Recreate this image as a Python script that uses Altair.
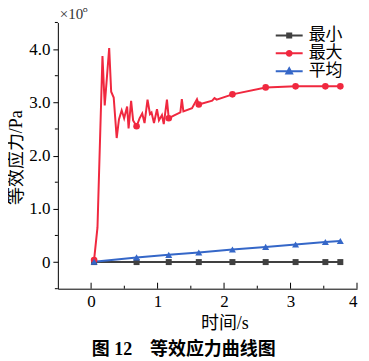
import altair as alt
import pandas as pd

SERIES = ["最小", "最大", "平均"]
COLORS = ["#404040", "#f0283f", "#3567c8"]
SHAPES = ["square", "circle", "triangle-up"]
# legend glyphs: a line with the marker in its middle
LEGEND_GLYPHS = [
    "M-1.8,0H1.8M-0.27,-0.27H0.27V0.27H-0.27Z",
    "M-1.8,0H1.8M0.33,0A0.33,0.33,0,1,1,-0.33,0A0.33,0.33,0,1,1,0.33,0Z",
    "M-1.8,0H1.8M0,-0.4L0.38,0.28H-0.38Z",
]

# dense trace of the maximum stress curve (x: s, y: 1e8 Pa)
max_t = [0.045, 0.096, 0.171, 0.205, 0.272, 0.302, 0.340, 0.385, 0.419, 0.460,
         0.497, 0.542, 0.564, 0.602, 0.632, 0.684, 0.729, 0.769, 0.804, 0.849,
         0.886, 0.909, 0.946, 0.991, 1.021, 1.066, 1.093, 1.141, 1.168, 1.243,
         1.343, 1.365, 1.388, 1.518, 1.593, 1.620, 1.822, 1.856, 1.889, 2.126,
         2.626, 3.076, 3.524, 3.749]
max_v = [0.04, 0.65, 3.87, 2.94, 4.02, 3.20, 3.09, 2.33, 2.68, 2.85,
         2.70, 2.92, 2.51, 3.03, 2.66, 2.55, 2.70, 2.79, 2.61, 3.05,
         2.78, 2.81, 2.61, 2.87, 2.66, 2.76, 2.59, 3.05, 2.70, 2.75,
         2.81, 3.06, 2.83, 2.89, 3.06, 2.96, 3.03, 3.08, 3.05, 3.15,
         3.28, 3.30, 3.30, 3.30]

# marker positions
mark_t = [0.045, 0.684, 1.168, 1.620, 2.126, 2.626, 3.076, 3.524, 3.749]
max_mark = [0.04, 2.55, 2.70, 2.96, 3.15, 3.28, 3.30, 3.30, 3.30]
min_mark = [0.0, 0.0, 0.0, 0.0, 0.0, 0.0, 0.0, 0.0, 0.0]
avg_mark = [0.005, 0.088, 0.136, 0.180, 0.237, 0.285, 0.330, 0.378, 0.397]

x_major = [0, 1, 2, 3, 4]
x_minor = [0.5, 1.5, 2.5, 3.5]
y_major = [0, 1, 2, 3, 4]
y_minor = [-0.5, 0.5, 1.5, 2.5, 3.5, 4.5]

SERIF = "'Liberation Serif', 'Times New Roman', serif"
FONT = "'Liberation Serif', 'Noto Sans CJK SC', serif"

xs = alt.Scale(domain=[-0.5, 4], nice=False, zero=False)
ys = alt.Scale(domain=[-0.5, 4.5], nice=False, zero=False)

min_df = pd.DataFrame({"t": mark_t, "v": min_mark})
max_line_df = pd.DataFrame({"t": max_t, "v": max_v})
max_df = pd.DataFrame({"t": mark_t, "v": max_mark})
avg_df = pd.DataFrame({"t": mark_t, "v": avg_mark})

base_x = alt.X("t:Q", scale=xs, axis=alt.Axis(
    values=x_major, ticks=False, tickSize=0, labelPadding=5, format="d",
    labelOverlap=False, labelFont=SERIF, labelFontSize=17, labelColor="black",
    title="时间/s", titleX=167, titleY=35, titleBaseline="middle",
    titleFont=FONT, titleFontSize=18, titleFontWeight="normal", titleColor="black",
    domainColor="black", grid=False))
base_y = alt.Y("v:Q", scale=ys, axis=alt.Axis(
    values=y_major, format=".1f",
    labelExpr="datum.value == 0 ? '0' : datum.label",
    ticks=True, tickSize=5, tickColor="black", labelOverlap=False, labelFlush=False,
    labelPadding=3, labelFont=SERIF, labelFontSize=17, labelColor="black",
    title="等效应力/Pa", titleX=-41, titleY=135, titleAlign="center",
    titleBaseline="middle", titleAngle=270,
    titleFont=FONT, titleFontSize=18, titleFontWeight="normal", titleColor="black",
    domainColor="black", grid=False))

layers = [
    alt.Chart(min_df).mark_line(strokeWidth=2, color=COLORS[0]).encode(x=base_x, y=base_y),
    alt.Chart(max_line_df).mark_line(strokeWidth=2, color=COLORS[1]).encode(x="t:Q", y="v:Q", order="t:Q"),
    alt.Chart(avg_df).mark_line(strokeWidth=2, color=COLORS[2]).encode(x="t:Q", y="v:Q"),
    alt.Chart(min_df).mark_point(filled=True, opacity=1, size=36, shape=SHAPES[0], color=COLORS[0]).encode(x="t:Q", y="v:Q"),
    alt.Chart(max_df).mark_point(filled=True, opacity=1, size=44, shape=SHAPES[1], color=COLORS[1]).encode(x="t:Q", y="v:Q"),
    alt.Chart(avg_df).mark_point(filled=True, opacity=1, size=50, shape=SHAPES[2], color=COLORS[2]).encode(x="t:Q", y="v:Q"),
]

# inward x-axis ticks
tick_major = alt.Chart(pd.DataFrame({"t": x_major, "v": -0.5})).mark_rule(
    color="black", strokeWidth=1, y2Offset=-6).encode(x="t:Q", y="v:Q", y2="v:Q")
tick_minor = alt.Chart(pd.DataFrame({"t": x_minor, "v": -0.5})).mark_rule(
    color="black", strokeWidth=1, y2Offset=-3).encode(x="t:Q", y="v:Q", y2="v:Q")
# outward minor y-axis ticks
ytick_minor = alt.Chart(pd.DataFrame({"t": -0.5, "v": y_minor})).mark_rule(
    color="black", strokeWidth=1, x2Offset=-3).encode(x="t:Q", x2="t:Q", y="v:Q")

corner = pd.DataFrame({"t": [-0.5], "v": [4.5]})
exp_main = alt.Chart(corner).mark_text(
    text="×10", align="left", baseline="middle", dx=2, dy=-8,
    font=SERIF, fontSize=15, color="#333333").encode(x="t:Q", y="v:Q")
exp_sup = alt.Chart(corner).mark_text(
    text="8", align="left", baseline="middle", dx=25, dy=-13,
    font=SERIF, fontSize=10, color="#333333").encode(x="t:Q", y="v:Q")

# legend-only layer (invisible marks)
legend_df = pd.DataFrame({"t": [1.0, 1.0, 1.0], "v": [1.0, 1.0, 1.0], "series": SERIES})
leg = alt.Legend(title=None, orient="none", legendX=223.5, legendY=4.5,
                 symbolSize=225, symbolStrokeWidth=2, symbolOpacity=1,
                 labelFont=FONT, labelFontSize=17, labelColor="black",
                 labelOffset=11, rowPadding=0, padding=0)
legend_layer = alt.Chart(legend_df).mark_point(filled=True, opacity=0).encode(
    x="t:Q", y="v:Q",
    fill=alt.Fill("series:N", scale=alt.Scale(domain=SERIES, range=COLORS), legend=leg),
    stroke=alt.Stroke("series:N", scale=alt.Scale(domain=SERIES, range=COLORS), legend=leg),
    shape=alt.Shape("series:N", scale=alt.Scale(domain=SERIES, range=LEGEND_GLYPHS), legend=leg),
)

chart = alt.layer(*layers, tick_major, tick_minor, ytick_minor, exp_main, exp_sup, legend_layer).properties(
    width=300, height=267,
    autosize=alt.AutoSizeParams(type="none"),
    padding={"left": 50, "top": 14, "right": 4, "bottom": 70},
    background="white",
    title=alt.TitleParams("图 12　等效应力曲线图", orient="bottom", anchor="start",
                          dx=84, offset=8, font=FONT, fontSize=18,
                          fontWeight="bold", color="black"),
).configure_view(stroke=None).configure_axis(
    grid=False, domainColor="black", tickColor="black",
    labelFont=SERIF, labelFontSize=17, labelColor="black",
    titleFont=FONT, titleFontSize=18, titleFontWeight="normal", titleColor="black",
)

chart.save("out.html", embed_options={"renderer": "svg", "actions": False})
